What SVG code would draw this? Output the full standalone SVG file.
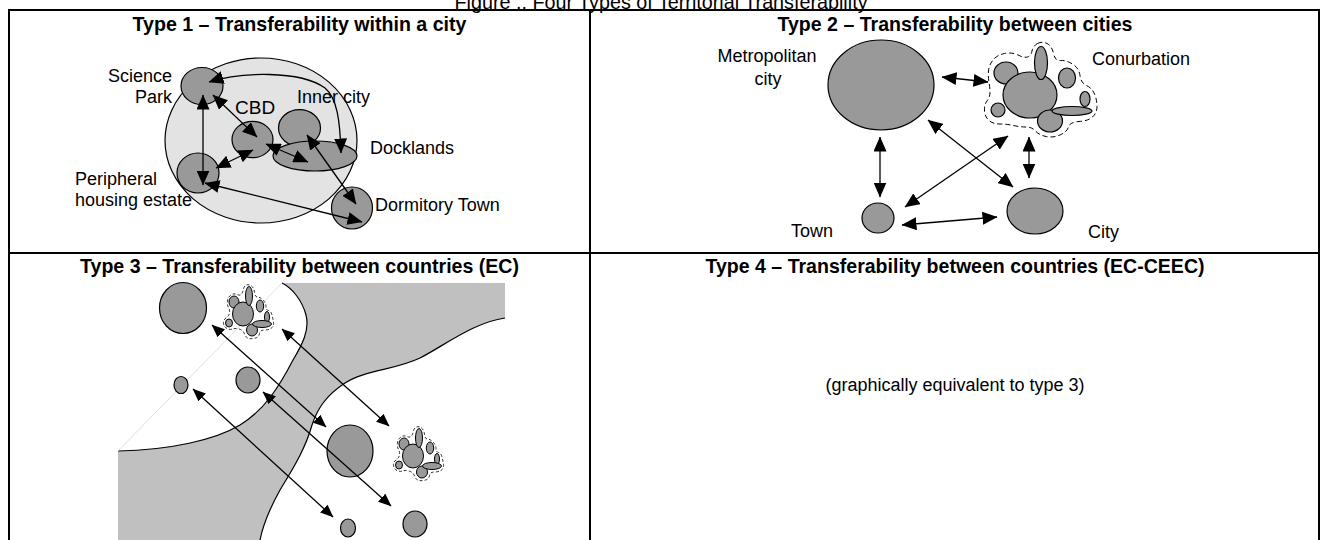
<svg xmlns="http://www.w3.org/2000/svg" width="1322" height="540" viewBox="0 0 1322 540">
<defs>
<style>
.frame{fill:none;stroke:#000;stroke-width:2}
.title{font-family:"Liberation Sans Narrow","Liberation Sans",Arial,sans-serif;font-size:20px;fill:#000;text-anchor:middle}
.head{font-family:"Liberation Sans Narrow","Liberation Sans",Arial,sans-serif;font-size:21px;font-weight:bold;fill:#000;text-anchor:middle}
.lbl{font-family:"Liberation Sans",Arial,sans-serif;font-size:18px;fill:#000}
.note{font-family:"Liberation Sans Narrow","Liberation Sans",Arial,sans-serif;font-size:18px;fill:#000;text-anchor:middle}
.node{fill:#999;stroke:#000;stroke-width:1.2}
.snode{fill:#999;stroke:#000;stroke-width:1}
.area{fill:#e3e3e3;stroke:#000;stroke-width:1.2}
.sea{fill:#c0c0c0;stroke:none}
.coast{fill:none;stroke:#000;stroke-width:1.2}
.ghost{fill:none;stroke:#d8d8d8;stroke-width:0.8}
.dash{fill:none;stroke:#000;stroke-width:1;stroke-dasharray:5 3}
.dash-s{fill:none;stroke:#000;stroke-width:0.8;stroke-dasharray:3 2}
.link{fill:none;stroke:#000;stroke-width:1.3;marker-start:url(#ah);marker-end:url(#ah)}
.link-s{fill:none;stroke:#000;stroke-width:1.3;marker-start:url(#ahs);marker-end:url(#ahs)}
</style>
<marker id="ah" viewBox="0 0 15 13" refX="14.5" refY="6.5" markerWidth="15" markerHeight="13" markerUnits="userSpaceOnUse" orient="auto-start-reverse"><path d="M0,0 L15,6.5 L0,13 z" fill="#000"/></marker>
<marker id="ahs" viewBox="0 0 13 11" refX="12.5" refY="5.5" markerWidth="13" markerHeight="11" markerUnits="userSpaceOnUse" orient="auto-start-reverse"><path d="M0,0 L13,5.5 L0,11 z" fill="#000"/></marker>
<g id="cluster">
<path class="dash-s" d="M3.5,-29 Q6,-30 8.5,-28 Q11,-26 11.5,-21.5 Q12,-17 14.5,-17 Q17,-17 20,-14 Q23,-11 23,-7.5 Q23,-4 25.5,-3.5 Q28,-3 29,1 Q30,5 30.5,8.5 Q31,12 28.5,14 Q26,16 21.5,16 Q17,16 16.5,19.5 Q16,23 12.5,24 Q9,25 6,24.5 Q3,24 1.5,20 Q0,16 -4,15 Q-8,14 -10.5,15 Q-13,16 -16,14.5 Q-19,13 -19.5,9.5 Q-20,6 -17,4 Q-14,2 -13.5,-1 Q-13,-4 -14.5,-6.5 Q-16,-9 -15.5,-13 Q-15,-17 -12,-19 Q-9,-21 -6,-19.5 Q-3,-18 -1.5,-20 Q0,-22 0.5,-25 Q1,-28 3.5,-29 Z"/>
<ellipse class="snode" cx="-9" cy="-12" rx="5" ry="6"/>
<ellipse class="snode" cx="17" cy="-8" rx="3.7" ry="6"/>
<ellipse class="snode" cx="24" cy="3" rx="2.5" ry="5.5"/>
<ellipse class="snode" cx="-14" cy="9" rx="3.5" ry="4"/>
<ellipse class="snode" cx="0" cy="0" rx="10.5" ry="12"/>
<ellipse class="snode" cx="6" cy="-18" rx="3.5" ry="9.5"/>
<ellipse class="snode" cx="9" cy="16" rx="5.5" ry="6"/>
<ellipse class="snode" cx="19" cy="10" rx="9.5" ry="3.5"/>
</g>
</defs>

<rect width="1322" height="540" fill="#fff"/>

<text class="title" x="661" y="9" textLength="413" lengthAdjust="spacingAndGlyphs">Figure .: Four Types of Territorial Transferability</text>

<g id="frame">
<rect class="frame" x="9" y="10" width="1310" height="545"/>
<line class="frame" x1="590" y1="10" x2="590" y2="545"/>
<line class="frame" x1="9" y1="253" x2="1319" y2="253"/>
</g>

<g id="headings">
<text class="head" x="299.5" y="31" textLength="334" lengthAdjust="spacingAndGlyphs">Type 1 – Transferability within a city</text>
<text class="head" x="955" y="31" textLength="355" lengthAdjust="spacingAndGlyphs">Type 2 – Transferability between cities</text>
<text class="head" x="299.5" y="273" textLength="439" lengthAdjust="spacingAndGlyphs">Type 3 – Transferability between countries (EC)</text>
<text class="head" x="955" y="273" textLength="499" lengthAdjust="spacingAndGlyphs">Type 4 – Transferability between countries (EC-CEEC)</text>
</g>

<!-- Type 1 -->
<g id="t1-city"><ellipse class="area" cx="261" cy="140.5" rx="96" ry="82.5"/></g>
<g id="t1-science-park">
<ellipse class="node" cx="202" cy="86" rx="21" ry="18.5"/>
<text class="lbl" x="172" y="82" text-anchor="end">Science</text>
<text class="lbl" x="172" y="103" text-anchor="end">Park</text>
</g>
<g id="t1-cbd">
<ellipse class="node" cx="252.5" cy="139.5" rx="20.5" ry="18.2"/>
<text class="lbl" x="235" y="114" style="font-size:19px">CBD</text>
</g>
<g id="t1-inner-city">
<ellipse class="node" cx="299.5" cy="128" rx="21" ry="18.3"/>
<text class="lbl" x="297" y="103">Inner city</text>
</g>
<g id="t1-docklands">
<ellipse class="node" cx="315" cy="156" rx="42" ry="15"/>
<text class="lbl" x="370" y="154">Docklands</text>
</g>
<g id="t1-dormitory-town">
<ellipse class="node" cx="352" cy="208" rx="20.5" ry="21"/>
<text class="lbl" x="375" y="211">Dormitory Town</text>
</g>
<g id="t1-peripheral-housing">
<ellipse class="node" cx="198" cy="173" rx="21" ry="20"/>
<text class="lbl" x="75" y="185">Peripheral</text>
<text class="lbl" x="75" y="206">housing estate</text>
</g>

<!-- Type 2 -->
<g id="t2-metropolitan-city">
<ellipse class="node" cx="881" cy="85" rx="53" ry="45"/>
<text class="lbl" x="767" y="62" text-anchor="middle">Metropolitan</text>
<text class="lbl" x="768" y="85" text-anchor="middle">city</text>
</g>
<g id="t2-conurbation">
<path class="dash" d="M1037.5,43.5 Q1042,41 1047,43.5 Q1052,46 1053.5,53.5 Q1055,61 1060.5,60.5 Q1066,60 1072.5,64 Q1079,68 1080,75.5 Q1081,83 1086.5,85.5 Q1092,88 1094.5,94 Q1097,100 1097,106.5 Q1097,113 1092.5,117 Q1088,121 1079,121.5 Q1070,122 1068.5,127 Q1067,132 1060,135 Q1053,138 1046,136.5 Q1039,135 1035.5,131 Q1032,127 1026,127 Q1020,127 1013.5,125.5 Q1007,124 1000,124 Q993,124 989,120.5 Q985,117 984.5,111 Q984,105 987,101 Q990,97 990,92.5 Q990,88 989,82.5 Q988,77 988.5,71 Q989,65 993,60 Q997,55 1004.5,53.5 Q1012,52 1018,55 Q1024,58 1027.5,57 Q1031,56 1032,51 Q1033,46 1037.5,43.5 Z"/>
<ellipse class="node" cx="1006" cy="73" rx="12" ry="11"/>
<ellipse class="node" cx="1067" cy="78" rx="8.5" ry="10"/>
<ellipse class="node" cx="1085" cy="99" rx="5" ry="7.5"/>
<ellipse class="node" cx="998" cy="110" rx="7" ry="7"/>
<ellipse class="node" cx="1030" cy="95" rx="27" ry="23"/>
<ellipse class="node" cx="1041" cy="63" rx="6.5" ry="16.5"/>
<ellipse class="node" cx="1050" cy="121" rx="12.5" ry="11"/>
<ellipse class="node" cx="1072" cy="111" rx="20" ry="4.5"/>
<text class="lbl" x="1092" y="65">Conurbation</text>
</g>
<g id="t2-town">
<ellipse class="node" cx="878" cy="218" rx="16" ry="15"/>
<text class="lbl" x="833" y="237" text-anchor="end">Town</text>
</g>
<g id="t2-city">
<ellipse class="node" cx="1035" cy="211" rx="28" ry="23"/>
<text class="lbl" x="1088" y="238">City</text>
</g>

<!-- Type 3 -->
<g id="t3-border-zone">
<path class="sea" d="M282,283 L505,283 L505,318 C475,322 445,345 420,358 C395,370 365,370 345,383 C325,396 317,410 312,425 C305,450 292,470 280,490 C270,508 263,525 260,540 L118,540 L118,451 C170,450 215,440 240,425 C265,410 280,385 293,360 C302,345 310,330 306,315 C302,300 292,288 282,283 Z"/>
<path class="coast" d="M505,318 C475,322 445,345 420,358 C395,370 365,370 345,383 C325,396 317,410 312,425 C305,450 292,470 280,490 C270,508 263,525 260,540"/>
<path class="coast" d="M118,451 C170,450 215,440 240,425 C265,410 280,385 293,360 C302,345 310,330 306,315 C302,300 292,288 282,283"/>
<line class="ghost" x1="118" y1="451" x2="282" y2="283"/>
</g>
<g id="t3-a-large"><ellipse class="node" cx="183" cy="308" rx="23.5" ry="25.5"/></g>
<g id="t3-a-conurbation"><use href="#cluster" x="243" y="314"/></g>
<g id="t3-a-small"><ellipse class="node" cx="181" cy="385" rx="7" ry="8.5"/></g>
<g id="t3-a-medium"><ellipse class="node" cx="248" cy="380" rx="12" ry="13"/></g>
<g id="t3-b-large"><ellipse class="node" cx="350" cy="451" rx="23" ry="26"/></g>
<g id="t3-b-conurbation"><use href="#cluster" x="413" y="456"/></g>
<g id="t3-b-small"><ellipse class="node" cx="348" cy="528" rx="7.5" ry="9"/></g>
<g id="t3-b-medium"><ellipse class="node" cx="415" cy="524" rx="12" ry="13"/></g>

<!-- Type 4 -->
<g id="t4-note"><text class="note" x="955" y="391">(graphically equivalent to type 3)</text></g>

<g id="connectors">
<line class="link" x1="203" y1="95" x2="203" y2="185"/>
<line class="link" x1="213" y1="95" x2="257" y2="137"/>
<line class="link" x1="216" y1="168" x2="253" y2="150"/>
<line class="link" x1="266" y1="144" x2="308" y2="162"/>
<path class="link" d="M209,82 C240,72 300,70 325,88 C337,98 340,120 341,153"/>
<line class="link" x1="307" y1="135" x2="356" y2="204"/>
<line class="link" x1="205" y1="183" x2="362" y2="222"/>

<line class="link" x1="942" y1="77" x2="988" y2="82"/>
<line class="link" x1="880" y1="137" x2="880" y2="197"/>
<line class="link" x1="928" y1="120" x2="1013" y2="187"/>
<line class="link" x1="905" y1="207" x2="1008" y2="136"/>
<line class="link" x1="1029" y1="137" x2="1029" y2="178"/>
<line class="link" x1="902" y1="225" x2="997" y2="217"/>

<line class="link-s" x1="212" y1="325" x2="326" y2="427"/>
<line class="link-s" x1="282" y1="329" x2="389" y2="426"/>
<line class="link-s" x1="193" y1="389" x2="333" y2="517"/>
<line class="link-s" x1="263" y1="392" x2="391" y2="506"/>
</g>
</svg>
